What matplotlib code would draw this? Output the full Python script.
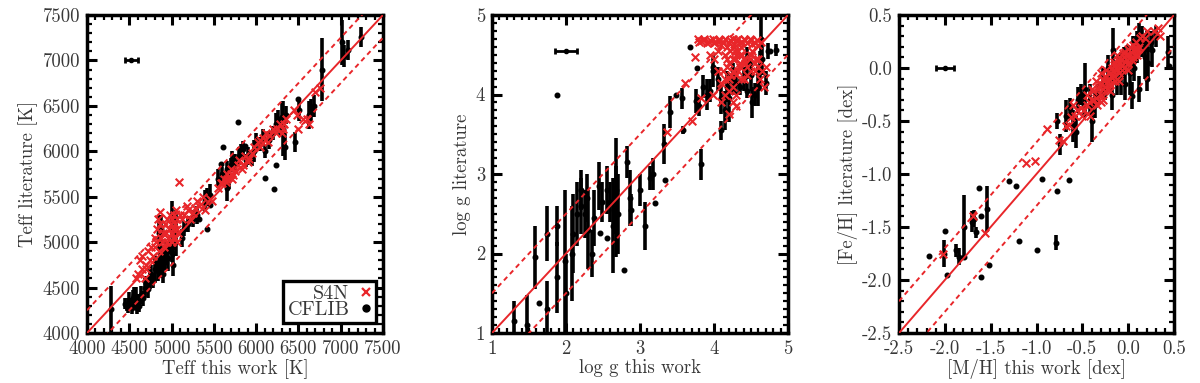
import matplotlib
matplotlib.use('Agg')
import matplotlib.pyplot as plt
import numpy as np
from matplotlib.ticker import MultipleLocator
from matplotlib.lines import Line2D

plt.rcParams['font.family'] = ['cmr10', 'DejaVu Serif']
plt.rcParams['axes.unicode_minus'] = False
plt.rcParams['axes.formatter.use_mathtext'] = False

RED = '#e8262a'
TXT = '#383838'

# ---------------- Panel 1: Teff ----------------
teff_cf_x = [4280, 4450, 4470, 4480, 4500, 4520, 4530, 4540, 4550, 4560, 4580, 4590, 4600, 4620, 4640, 4660,
             4680, 4700, 4720, 4740, 4760, 4780, 4800, 4820, 4840, 4850, 4860, 4880, 4880, 4900, 4900, 4920,
             4940, 4960, 4980, 5000, 5000, 5020, 5020, 5040, 5050, 5120, 5150, 5200, 5250, 5250, 5300, 5330,
             5420, 5450, 5400, 5420, 5460, 5550, 5580, 5600, 5610, 5650, 5660, 5680, 5700, 5720, 5750, 5780,
             5800, 5820, 5850, 5870, 5880, 5900, 5950, 5980, 6000, 6050, 6080, 6100, 6100, 6150, 6200, 6210,
             6230, 6230, 6260, 6280, 6300, 6320, 6350, 6340, 6460, 6490, 6510, 6620, 6650, 6680, 6780, 7020,
             7040, 7090, 7240]
teff_cf_y = [4260, 4320, 4290, 4300, 4350, 4310, 4270, 4380, 4420, 4330, 4400, 4280, 4350, 4300, 4420, 4380,
             4500, 4550, 4480, 4600, 4650, 4580, 4700, 4750, 4680, 5100, 4800, 4720, 5150, 4850, 4650, 4780,
             4900, 4820, 4950, 4880, 5250, 4960, 4750, 5000, 5100, 5050, 5150, 5200, 5250, 5280, 5300, 5250,
             5140, 5410, 5450, 5500, 5520, 5700, 5860, 5750, 6050, 5800, 5600, 5700, 5850, 5900, 5880, 6320,
             5950, 6000, 6020, 6060, 5900, 5950, 5920, 6000, 6100, 6080, 6150, 5710, 6000, 6120, 6200, 5590,
             5850, 6300, 6350, 6250, 6380, 6250, 6400, 6050, 6100, 6580, 6450, 6400, 6450, 6500, 6900, 7200,
             7050, 7120, 7260]
teff_cf_err = [260, 60, 50, 80, 100, 70, 60, 90, 90, 60, 110, 70, 80, 70, 100, 80,
               100, 80, 90, 120, 100, 80, 150, 90, 110, 200, 200, 100, 150, 120, 100, 90,
               100, 140, 80, 100, 200, 120, 120, 90, 250, 100, 80, 90, 80, 70, 100, 0,
               0, 0, 120, 100, 120, 100, 0, 80, 0, 90, 150, 120, 80, 100, 90, 0,
               100, 80, 90, 0, 70, 100, 80, 120, 100, 80, 90, 0, 70, 100, 80, 0,
               0, 120, 100, 80, 150, 300, 100, 150, 110, 0, 120, 150, 130, 120, 350, 250,
               120, 110, 110]
teff_s4_x = [4600, 4630, 4650, 4650, 4680, 4700, 4700, 4750, 4780, 4800, 4820, 4850, 4865, 4870, 4900, 4920,
             4950, 4960, 4970, 4990, 5000, 5000, 5020, 5030, 5040, 5050, 5060, 5070, 5090, 5150, 5180, 5200,
             5220, 5250, 5280, 5300, 5330, 5370, 5400, 5550, 5600, 5620, 5640, 5650, 5680, 5700, 5720, 5750,
             5780, 5800, 5830, 5850, 5870, 5900, 5920, 5950, 5980, 6020, 6050, 6080, 6100, 6120, 6150, 6200,
             6230, 6280, 6300, 6320, 6350, 6450, 6480, 6500, 6550, 6600, 6620, 6700, 6750,
             4720, 4760, 4800, 4830, 4860, 4890, 4910, 4930, 4980, 5010, 5020, 5040, 5060, 5080, 4950,
             5580, 5660, 5700, 5730, 6050, 6140, 6250, 6330, 5450, 5480, 5100, 5120, 5350, 4840, 4580]
teff_s4_y = [4650, 4800, 4700, 4850, 4600, 4750, 4700, 4800, 4850, 4950, 5000, 4900, 5330, 5050, 5100, 5200,
             5250, 5050, 5150, 5200, 5100, 5000, 5050, 5300, 5200, 5350, 5150, 5000, 5660, 5300, 5400, 5350,
             5250, 5320, 5380, 5450, 5400, 5500, 5350, 5600, 5650, 5700, 5660, 5750, 5720, 5800, 5700, 5780,
             5850, 5900, 5800, 5850, 5950, 5880, 5920, 5980, 6050, 6100, 6050, 6150, 6120, 6200, 6180, 6250,
             6200, 6300, 6200, 6250, 6350, 6450, 6400, 6250, 6350, 6350, 6300, 6650, 6700,
             4900, 4950, 5050, 5150, 5200, 5000, 4950, 5100, 5300, 5250, 5150, 5050, 5250, 5100, 5000,
             5650, 5700, 5750, 5740, 6120, 6100, 6250, 6300, 5480, 5450, 5300, 5250, 5420, 5250, 4600]
teff_typ = (4525, 7000, 75)   # typical error bar: x, y, xerr

# ---------------- Panel 2: log g ----------------
logg_cf_x = [1.30, 1.47, 1.58, 1.63, 1.74, 1.74, 1.88, 1.88, 1.88, 1.98, 2.00, 2.08, 2.10, 2.15, 2.20, 2.20,
             2.25, 2.28, 2.30, 2.35, 2.38, 2.45, 2.46, 2.48, 2.55, 2.56, 2.60, 2.64, 2.65, 2.67, 2.68, 2.70,
             2.79, 2.83, 2.86, 2.88, 3.00, 3.07, 3.14, 3.17, 3.20, 3.32, 3.34, 3.41, 3.49, 3.57, 3.58, 3.67,
             3.75, 3.77, 3.80, 3.82, 3.85, 3.90, 3.95, 3.98, 3.99, 4.05, 4.10, 4.10, 4.15, 4.18, 4.20, 4.25,
             4.30, 4.35, 4.40, 4.45, 4.45, 4.50, 4.52, 4.55, 4.60, 4.62, 4.63, 4.65, 4.70, 4.73, 4.75, 4.84]
logg_cf_y = [1.15, 1.10, 1.95, 1.38, 1.30, 2.25, 2.35, 1.70, 4.00, 1.90, 1.50, 2.00, 2.25, 2.50, 2.60, 2.80,
             2.50, 2.70, 2.30, 2.00, 2.45, 2.85, 2.26, 2.65, 2.80, 2.19, 2.65, 2.35, 2.55, 2.70, 2.80, 2.50,
             1.79, 3.15, 2.70, 2.55, 2.80, 2.35, 2.95, 3.00, 2.63, 3.38, 2.93, 3.78, 4.00, 3.95, 3.55, 4.60,
             3.92, 4.33, 3.85, 3.12, 4.10, 4.00, 4.05, 4.35, 4.30, 4.20, 3.95, 3.55, 3.80, 4.10, 3.95, 4.20,
             4.15, 4.10, 4.20, 4.05, 4.40, 4.25, 3.90, 4.00, 4.10, 4.30, 4.70, 4.45, 4.15, 4.55, 4.55, 4.56]
logg_cf_err = [0.25, 0.38, 0.40, 0, 0.35, 0.35, 0.25, 0.45, 0, 0.90, 0.50, 0.60, 0.50, 0.40, 0.35, 0.25,
               0.30, 0.30, 0.50, 0.30, 0.35, 0.30, 0, 0.25, 0.30, 0, 0.25, 0.60, 0.30, 0.75, 0.30, 0.50,
               0, 0.20, 0.35, 0.20, 0.20, 0.30, 0.15, 0.20, 0, 0.25, 0, 0.20, 0, 0.13, 0.05, 0,
               0.15, 0, 0.12, 0.20, 0.15, 0.20, 0.15, 0, 0.20, 0.15, 0.20, 0.12, 0.25, 0.20, 0.30, 0.20,
               0.15, 0.10, 0.15, 0.10, 0.20, 0.20, 0.20, 0.15, 0.25, 0.25, 0.30, 0.20, 0.15, 0.10, 0, 0.08]
logg_s4_x = [3.78, 3.82, 3.85, 3.90, 3.95, 4.00, 4.05, 4.10, 4.15, 4.18, 4.20, 4.25, 4.28, 4.30, 4.35, 4.40,
             4.45, 4.50, 4.55, 4.60, 4.15, 4.20, 4.25, 4.30, 4.35, 4.40, 4.45, 4.50, 4.55, 4.60, 4.65, 4.70,
             4.25, 4.30, 4.35, 4.20, 4.10, 4.05, 4.00, 3.95, 4.40, 4.50, 4.15, 4.10, 4.20, 4.25, 4.30, 4.68,
             4.62, 4.30, 3.74, 3.61, 3.36, 3.70, 3.83, 3.98,
             3.80, 3.87, 3.93, 3.98, 4.02, 4.08, 4.12, 4.22, 4.27, 4.32, 4.38, 4.42, 4.48, 4.52, 4.58, 4.63,
             4.22, 4.28, 4.33, 4.38, 4.42, 4.48, 4.52, 4.57, 4.17, 4.23, 4.32, 4.37, 4.45, 4.55, 4.60, 4.18,
             4.27, 4.36, 4.12, 4.20, 4.25, 4.15, 4.35, 4.05]
logg_s4_y = [4.70, 4.67, 4.68, 4.65, 4.68, 4.65, 4.68, 4.62, 4.70, 4.60, 4.65, 4.70, 4.55, 4.68, 4.65, 4.70,
             4.65, 4.68, 4.65, 4.62, 4.50, 4.40, 4.45, 4.50, 4.40, 4.45, 4.35, 4.50, 4.40, 4.35, 4.30, 4.35,
             4.30, 4.25, 4.35, 4.20, 4.15, 4.30, 4.45, 4.50, 4.20, 4.30, 4.00, 3.90, 3.75, 3.90, 4.00, 4.10,
             4.20, 3.85, 4.47, 4.15, 3.53, 3.67, 3.95, 4.00,
             4.66, 4.70, 4.66, 4.70, 4.66, 4.69, 4.66, 4.68, 4.64, 4.70, 4.66, 4.68, 4.70, 4.64, 4.68, 4.66,
             4.55, 4.45, 4.55, 4.50, 4.40, 4.45, 4.55, 4.45, 4.35, 4.25, 4.30, 4.20, 4.25, 4.30, 4.45, 4.45,
             4.60, 4.60, 4.30, 4.05, 4.10, 4.20, 4.50, 4.55]
logg_typ = (2.0, 4.55, 0.15)

# ---------------- Panel 3: metallicity ----------------
feh_cf_x = [-2.17, -2.00, -2.01, -1.98, -1.88, -1.85, -1.79, -1.79, -1.70, -1.68, -1.66, -1.63, -1.61, -1.61,
            -1.54, -1.52, -1.30, -1.22, -1.19, -1.00, -0.94, -0.79, -0.78, -0.78, -0.74, -0.68, -0.65, -0.63,
            -0.60, -0.57, -0.55, -0.52, -0.48, -0.47, -0.42, -0.40, -0.36, -0.33, -0.28, -0.25, -0.22, -0.20,
            -0.18, -0.17, -0.15, -0.12, -0.10, -0.08, -0.05, -0.03, 0.00, 0.02, 0.04, 0.05, 0.06, 0.08,
            0.10, 0.12, 0.12, 0.15, 0.18, 0.20, 0.20, 0.22, 0.25, 0.26, 0.30, 0.43, 0.45]
feh_cf_y = [-1.77, -1.54, -1.75, -1.95, -1.72, -1.78, -1.50, -1.78, -1.45, -1.42, -1.55, -1.13, -1.40, -1.97,
            -1.33, -1.86, -1.07, -1.11, -1.63, -1.72, -1.05, -1.65, -1.16, -0.50, -0.72, -0.45, -1.06, -0.38,
            -0.55, -0.60, -0.30, -0.25, -0.35, -0.20, -0.30, -0.50, -0.35, -0.25, -0.15, -0.20, 0.00, -0.12,
            -0.25, 0.17, -0.05, -0.10, 0.02, -0.05, 0.05, -0.15, 0.10, -0.05, -0.26, 0.15, 0.00, 0.20,
            0.20, 0.30, -0.20, 0.25, 0.10, 0.25, -0.10, 0.05, 0.25, 0.17, 0.30, 0.15, 0.02]
feh_cf_err = [0, 0, 0.13, 0, 0.06, 0.08, 0.30, 0, 0.10, 0.08, 0.05, 0, 0, 0,
              0.22, 0, 0, 0, 0, 0, 0, 0.07, 0, 0.08, 0.10, 0.15, 0, 0.10,
              0.15, 0.15, 0.12, 0.10, 0.12, 0.25, 0.15, 0.20, 0.12, 0.10, 0.15, 0.10, 0.12, 0.10,
              0.15, 0.21, 0.10, 0.15, 0.10, 0.20, 0.15, 0.15, 0.12, 0.20, 0.13, 0.15, 0.12, 0.10,
              0.15, 0.12, 0.12, 0.15, 0.20, 0.10, 0.12, 0.15, 0.10, 0.16, 0.10, 0.15, 0]
feh_s4_x = [-2.02, -1.69, -1.56, -1.11, -1.02, -0.89, -0.75, -0.71, -0.65, -0.62, -0.60, -0.56, -0.50, -0.45,
            -0.45, -0.42, -0.40, -0.38, -0.35, -0.35, -0.33, -0.30, -0.30, -0.28, -0.27, -0.25, -0.25, -0.22,
            -0.20, -0.20, -0.18, -0.15, -0.15, -0.12, -0.12, -0.10, -0.10, -0.08, -0.05, -0.05, -0.02, 0.00,
            0.00, 0.03, 0.05, 0.05, 0.08, 0.10, 0.12, 0.15, 0.20, 0.28, 0.33, 0.35,
            -0.32, -0.30, -0.28, -0.26, -0.24, -0.23, -0.21, -0.19, -0.17, -0.16, -0.14, -0.13, -0.11, -0.09,
            -0.07, -0.06, -0.04, -0.03, -0.01, 0.01, 0.02, 0.04, 0.06, 0.07, 0.09, 0.11, -0.37, -0.34,
            -0.40, -0.43, -0.48, -0.52, -0.58, -0.68, -0.30, -0.20, -0.10, 0.00, 0.13, 0.18]
feh_s4_y = [-1.75, -1.40, -1.56, -0.90, -0.88, -0.58, -0.68, -0.69, -0.54, -0.46, -0.35, -0.40, -0.45, -0.35,
            -0.25, -0.45, -0.30, -0.22, -0.28, -0.12, -0.20, -0.15, -0.25, -0.10, -0.30, -0.18, -0.08, -0.12,
            -0.05, -0.15, 0.00, -0.08, 0.03, -0.02, 0.12, 0.05, -0.05, 0.08, 0.00, 0.10, 0.12, 0.05,
            0.18, 0.15, 0.10, 0.22, 0.18, 0.12, 0.20, 0.30, 0.35, 0.35, 0.38, 0.30,
            -0.18, -0.05, -0.20, -0.12, -0.02, -0.20, -0.10, -0.08, -0.03, 0.06, -0.12, 0.00, 0.08, 0.00,
            0.03, 0.14, 0.06, 0.15, 0.08, 0.12, 0.20, 0.08, 0.18, 0.12, 0.25, 0.18, -0.30, -0.35,
            -0.20, -0.32, -0.40, -0.38, -0.45, -0.55, -0.32, -0.22, -0.12, -0.02, 0.28, 0.28]
feh_typ = (-2.0, 0.0, 0.10)

panels = [
    dict(cf=(teff_cf_x, teff_cf_y, teff_cf_err), s4=(teff_s4_x, teff_s4_y), typ=teff_typ,
         lim=(4000, 7500), off=250, major=500, minor=100,
         xlabel='Teff this work [K]', ylabel='Teff literature [K]',
         rect=(87, 15, 296, 318), legend=True),
    dict(cf=(logg_cf_x, logg_cf_y, logg_cf_err), s4=(logg_s4_x, logg_s4_y), typ=logg_typ,
         lim=(1, 5), off=0.5, major=1, minor=0.1,
         xlabel='log g this work', ylabel='log g literature',
         rect=(492, 15, 296, 318), legend=False),
    dict(cf=(feh_cf_x, feh_cf_y, feh_cf_err), s4=(feh_s4_x, feh_s4_y), typ=feh_typ,
         lim=(-2.5, 0.5), off=0.3, major=0.5, minor=0.1,
         xlabel='[M/H] this work [dex]', ylabel='[Fe/H] literature [dex]',
         rect=(899, 15, 275, 318), legend=False),
]

W, H = 1200, 383
fig = plt.figure(figsize=(W / 100, H / 100), dpi=100)

for p in panels:
    l, t, w, h = p['rect']
    ax = fig.add_axes([l / W, (H - t - h) / H, w / W, h / H])
    lo, hi = p['lim']
    ax.set_xlim(lo, hi)
    ax.set_ylim(lo, hi)
    lims = np.array([lo, hi])

    cx, cy, ce = p['cf']
    ax.errorbar(cx, cy, yerr=ce, fmt='o', ms=3.3, color='k', ecolor='k',
                elinewidth=2.6, capsize=0, zorder=2)
    sx, sy = p['s4']
    ax.scatter(sx, sy, marker='x', s=30, color=RED, linewidths=1.5, zorder=3)

    ax.plot(lims, lims, color=RED, lw=1.4, zorder=4)
    ax.plot(lims, lims + p['off'], color=RED, lw=1.4, ls=(0, (2.5, 2)), zorder=4)
    ax.plot(lims, lims - p['off'], color=RED, lw=1.4, ls=(0, (2.5, 2)), zorder=4)

    tx, ty, te = p['typ']
    ax.errorbar([tx], [ty], xerr=[te], fmt='o', ms=3, color='k', elinewidth=2,
                capsize=2.5, capthick=2, zorder=5)

    ax.xaxis.set_major_locator(MultipleLocator(p['major']))
    ax.yaxis.set_major_locator(MultipleLocator(p['major']))
    ax.xaxis.set_minor_locator(MultipleLocator(p['minor']))
    ax.yaxis.set_minor_locator(MultipleLocator(p['minor']))
    ax.tick_params(which='major', direction='in', top=True, right=True, length=7, width=2.2,
                   labelsize=13.5, labelcolor=TXT, pad=5)
    ax.tick_params(which='minor', direction='in', top=True, right=True, length=3.5, width=1.6)
    for s in ax.spines.values():
        s.set_linewidth(2.5)

    ax.set_xlabel(p['xlabel'], fontsize=13.5, color=TXT, labelpad=1)
    ax.set_ylabel(p['ylabel'], fontsize=13.5, color=TXT, labelpad=3)

    if p['legend']:
        handles = [Line2D([], [], ls='', marker='x', ms=6, mew=1.6, color=RED),
                   Line2D([], [], ls='', marker='o', ms=5, color='k')]
        leg = ax.legend(handles, ['S4N', 'CFLIB'], loc='lower right', bbox_to_anchor=(0.975, 0.03),
                        markerfirst=False, fontsize=14.5, handlelength=0.6, handletextpad=0.5,
                        borderpad=0.2, labelspacing=-0.1, fancybox=False, framealpha=1,
                        edgecolor='k', borderaxespad=0)
        leg.get_frame().set_linewidth(2.4)
        for txt in leg.get_texts():
            txt.set_color(TXT)

fig.savefig('out.png', dpi=100)
